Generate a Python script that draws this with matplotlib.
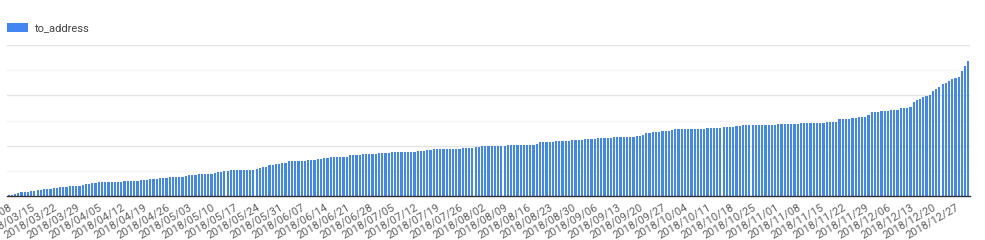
import numpy as np
import pandas as pd
import matplotlib
matplotlib.use("Agg")
import matplotlib.pyplot as plt

plt.rcParams['font.family'] = ['Roboto', 'DejaVu Sans']

# daily counts (no y labels in the original, units arbitrary)
to_address = [
    5, 13, 20, 27, 37, 37, 37, 45, 50, 60,
    60, 70, 70, 73, 83, 83, 93, 93, 93, 100,
    100, 100, 100, 110, 117, 117, 127, 127, 137, 137,
    137, 140, 140, 140, 140, 143, 150, 150, 150, 150,
    152, 155, 155, 160, 167, 167, 167, 177, 177, 177,
    187, 187, 187, 187, 187, 200, 207, 207, 207, 217,
    217, 217, 223, 223, 233, 240, 240, 247, 247, 257,
    257, 257, 257, 263, 263, 263, 263, 270, 280, 293,
    293, 307, 307, 315, 320, 327, 327, 343, 343, 343,
    350, 350, 350, 360, 360, 360, 370, 370, 377, 377,
    383, 390, 390, 390, 390, 390, 407, 407, 407, 407,
    417, 417, 417, 417, 420, 430, 430, 430, 430, 440,
    440, 440, 440, 440, 440, 440, 440, 447, 447, 447,
    457, 457, 470, 470, 470, 470, 470, 470, 470, 470,
    470, 480, 480, 480, 480, 490, 490, 500, 500, 500,
    500, 500, 500, 500, 500, 507, 507, 507, 507, 507,
    507, 507, 507, 507, 513, 537, 537, 537, 537, 537,
    547, 547, 547, 547, 547, 553, 553, 553, 553, 563,
    563, 563, 563, 573, 573, 573, 573, 573, 583, 583,
    583, 583, 583, 583, 590, 597, 597, 610, 623, 623,
    633, 633, 633, 643, 650, 650, 657, 663, 663, 663,
    663, 667, 667, 667, 667, 667, 667, 680, 680, 680,
    680, 680, 690, 690, 690, 690, 697, 697, 707, 707,
    707, 707, 710, 710, 710, 710, 710, 710, 710, 720,
    720, 720, 720, 720, 720, 720, 730, 730, 730, 730,
    730, 730, 730, 730, 740, 740, 740, 740, 760, 760,
    760, 760, 775, 775, 785, 785, 785, 800, 833, 833,
    833, 847, 847, 847, 857, 857, 857, 870, 870, 870,
    887, 933, 950, 967, 980, 990, 1007, 1043, 1063, 1083,
    1110, 1127, 1143, 1160, 1173, 1187, 1237, 1293, 1343,
]
dates = pd.date_range('2018-03-08', periods=len(to_address), freq='D')
tick_every = 7

fig = plt.figure(figsize=(9.85, 2.4), dpi=100)
ax = fig.add_axes([7 / 985, 44 / 240, 963 / 985, 151 / 240])

x = np.arange(len(dates))
bars = ax.bar(x, to_address, width=0.68, color='#4285f4', label='to_address', zorder=3)

ax.set_xlim(-0.5, len(dates) - 0.5)
ax.set_ylim(0, 1500)

# alternating grid lines
for v in range(250, 1501, 250):
    c = '#e4e4e4' if v % 500 == 0 else '#f4f4f4'
    ax.axhline(v, color=c, lw=1, zorder=1)

for s in ['top', 'right', 'left']:
    ax.spines[s].set_visible(False)
ax.spines['bottom'].set_color('#333333')
ax.spines['bottom'].set_linewidth(1)
ax.spines['bottom'].set_zorder(4)

ax.set_yticks([])
ticks = x[::tick_every]
ax.set_xticks(ticks)
ax.set_xticklabels([d.strftime('%Y/%m/%d') for d in dates[::tick_every]],
                   rotation=30, ha='right', va='top', rotation_mode='anchor',
                   fontsize=8, color='#616161')
ax.tick_params(axis='x', length=0, pad=4)

fig.legend(handles=[bars], loc='upper left', bbox_to_anchor=(7 / 985, 1 - 23 / 240),
           frameon=False, fontsize=8, handlelength=1.9, handleheight=0.9,
           handletextpad=0.6, borderpad=0, borderaxespad=0, labelcolor='#444444')

fig.savefig('out.png', dpi=100)
